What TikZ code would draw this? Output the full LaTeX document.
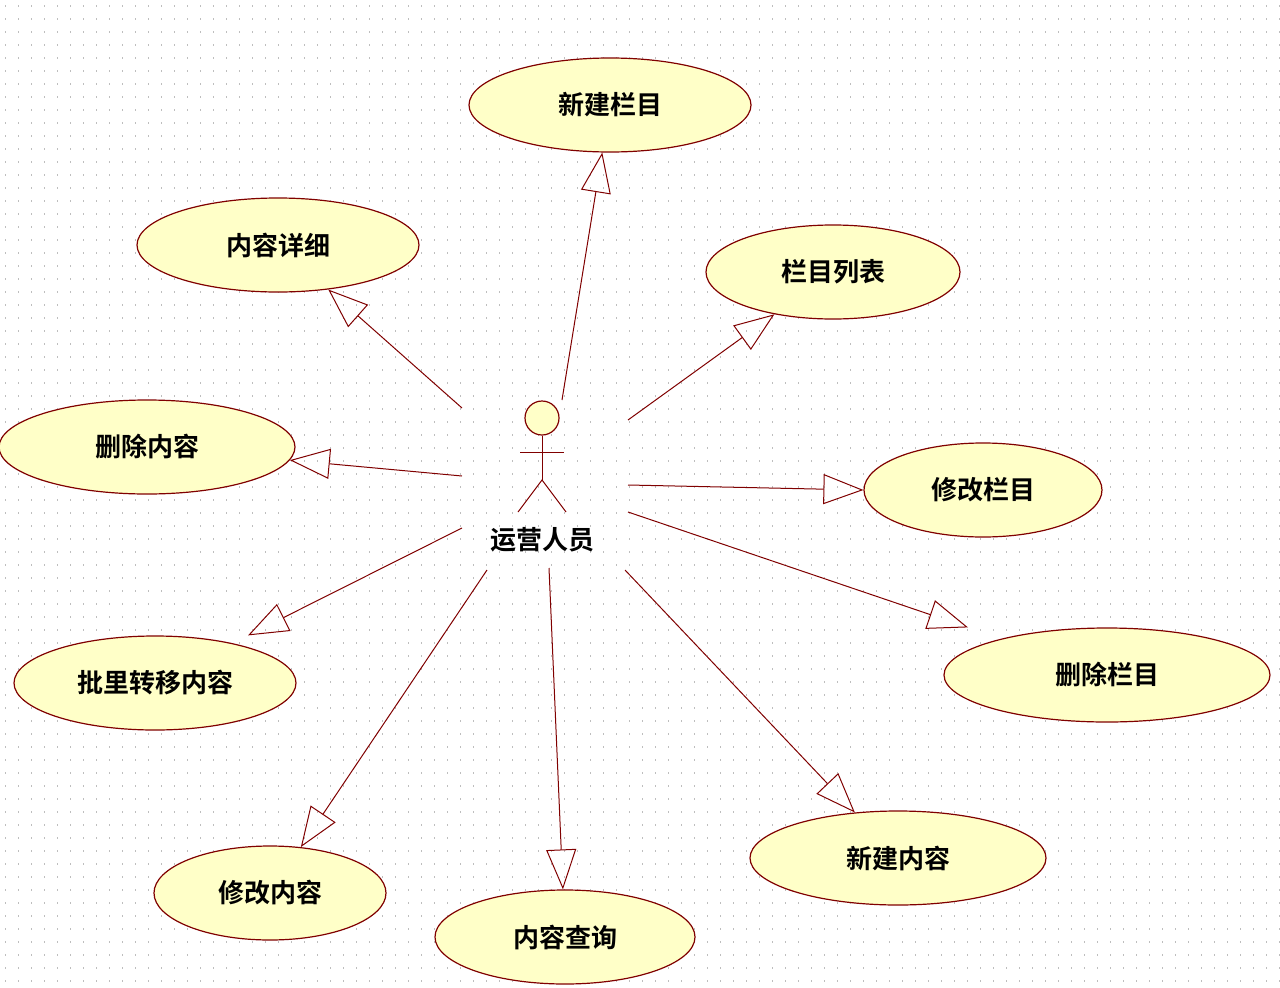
\documentclass[tikz,border=0pt]{standalone}
\usepackage{fontspec}
\usetikzlibrary{shapes.geometric, arrows.meta, positioning}
\newfontfamily\cjk{Noto Sans CJK SC}[BoldFont={Noto Sans CJK SC Bold}]
\definecolor{caseFill}{RGB}{255,255,200}
\definecolor{caseLine}{RGB}{128,0,0}
\definecolor{gridDot}{RGB}{190,190,190}

\begin{document}
\begin{tikzpicture}[
        x=1pt, y=-1pt,
        usecase/.style={ellipse, draw=caseLine, fill=caseFill, line width=1.2pt, inner sep=0pt, font=\cjk\bfseries\fontsize{26}{30}\selectfont},
        arrow/.style={-{Triangle[open, length=40pt, width=30pt]}, draw=caseLine, line width=1pt}
    ]
        % Background grid
        \useasboundingbox[fill=white] (0,0) rectangle (1280,988);
        \foreach \y in {6,19,...,988}
            \draw[gridDot, line width=1.2pt, dash pattern=on 1.2pt off 11.8pt] (5,\y) -- (1280,\y);

        % Use cases
        \node[usecase, minimum width=282pt, minimum height=94pt] (newcol) at (610,105) {新建栏目};
        \node[usecase, minimum width=282pt, minimum height=94pt] (detail) at (278,245) {内容详细};
        \node[usecase, minimum width=254pt, minimum height=94pt] (collist) at (833,272) {栏目列表};
        \node[usecase, minimum width=296pt, minimum height=94pt] (delcont) at (147,447) {删除内容};
        \node[usecase, minimum width=238pt, minimum height=94pt] (editcol) at (983,490) {修改栏目};
        \node[usecase, minimum width=282pt, minimum height=94pt] (move) at (155,683) {批里转移内容};
        \node[usecase, minimum width=326pt, minimum height=94pt] (delcol) at (1107,675) {删除栏目};
        \node[usecase, minimum width=232pt, minimum height=94pt] (editcont) at (270,893) {修改内容};
        \node[usecase, minimum width=260pt, minimum height=94pt] (query) at (565,937) {内容查询};
        \node[usecase, minimum width=296pt, minimum height=94pt] (newcont) at (898,858) {新建内容};

        % Actor
        \node[circle, draw=caseLine, fill=caseFill, line width=1.2pt, minimum size=34pt, inner sep=0pt] (head) at (542,418) {};
        \draw[caseLine, line width=1pt] (head.south) -- (542,480) coordinate (hip);
        \draw[caseLine, line width=1pt] (520,452) -- (564,452);
        \draw[caseLine, line width=1pt] (518,512) -- (hip) -- (566,512);
        \node[font=\cjk\bfseries\fontsize{26}{30}\selectfont] (actor) at (542,540) {运营人员};

        % Start points
        \coordinate (s1) at (562,400);
        \coordinate (s2) at (462,408);
        \coordinate (s3) at (628,420);
        \coordinate (s4) at (462,476);
        \coordinate (s5) at (628,485);
        \coordinate (s6) at (462,528);
        \coordinate (s7) at (628,512);
        \coordinate (s8) at (487,570);
        \coordinate (s9) at (549,568);
        \coordinate (s10) at (625,570);

        % Arrows
        \draw[arrow] (s1) -- (newcol);
        \draw[arrow] (s2) -- (detail);
        \draw[arrow] (s3) -- (collist);
        \draw[arrow] (s4) -- (delcont);
        \draw[arrow] (s5) -- (editcol.west);
        \draw[arrow] (s6) -- ([xshift=93pt]move.north);
        \draw[arrow] (s7) -- ([xshift=-139pt]delcol.north);
        \draw[arrow] (s8) -- (editcont);
        \draw[arrow] (s9) -- (query);
        \draw[arrow] (s10) -- (newcont);
    \end{tikzpicture}
\end{document}
